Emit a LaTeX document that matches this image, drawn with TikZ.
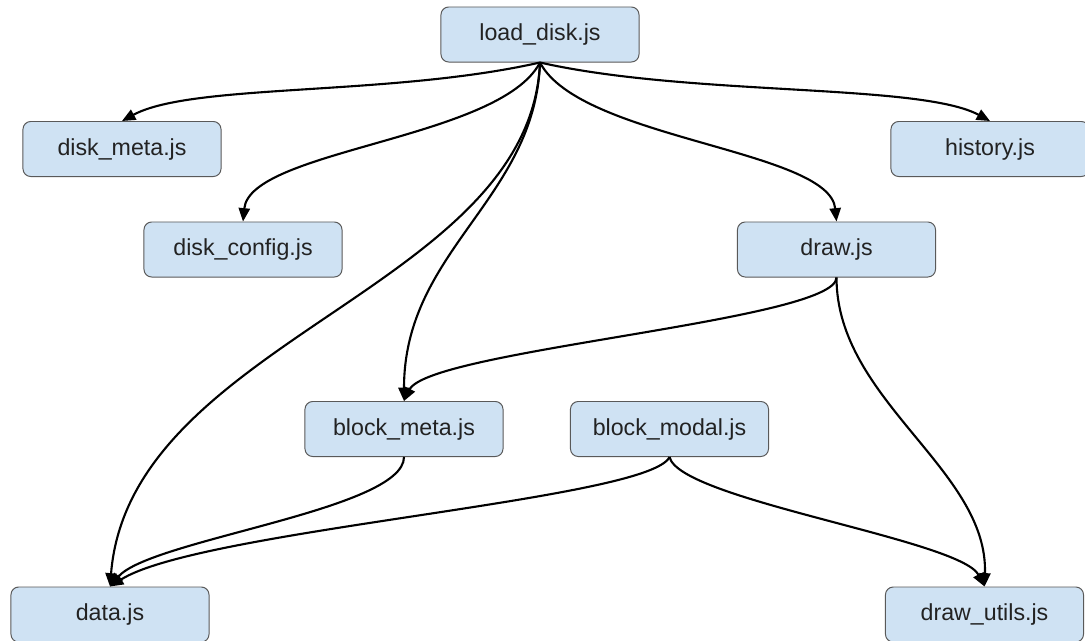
\documentclass[tikz,border=0pt]{standalone}
\usepackage{fontspec}
\setmainfont{Liberation Sans}
\usetikzlibrary{arrows.meta}

\definecolor{boxfill}{HTML}{CFE2F3}
\definecolor{boxline}{HTML}{595959}
\definecolor{textgray}{HTML}{222222}

\tikzset{
  jsfile/.style={draw=boxline, line width=0.7pt, fill=boxfill,
    rounded corners=5.5pt, minimum width=4.95cm, minimum height=1.375cm,
    inner sep=0pt, text=textgray, font=\fontsize{16.5}{20}\selectfont},
  uses/.style={line width=1.5pt, -{Triangle[length=9.5pt,width=8pt]}}
}

\begin{document}
\begin{tikzpicture}[x=0.025cm,y=-0.025cm]
  \useasboundingbox (0,0) rectangle (1085,640);
  % modules
  \node[jsfile] (load) at (540,34.5) {load\_disk.js};
  \node[jsfile] (diskmeta) at (122,149) {disk\_meta.js};
  \node[jsfile] (history) at (990,149) {history.js};
  \node[jsfile] (diskconfig) at (243,249.5) {disk\_config.js};
  \node[jsfile] (drawjs) at (836.5,249.5) {draw.js};
  \node[jsfile] (blockmeta) at (404,429) {block\_meta.js};
  \node[jsfile] (blockmodal) at (669.5,429) {block\_modal.js};
  \node[jsfile] (data) at (110,614.5) {data.js};
  \node[jsfile] (drawutils) at (984.5,614.5) {draw\_utils.js};
  % dependencies
  \draw[uses] (load.south) .. controls +(-150,34) and +(70,-38) .. (diskmeta.north);
  \draw[uses] (load.south) .. controls +(150,34) and +(-70,-38) .. (history.north);
  \draw[uses] (load.south) .. controls +(-40,77) and +(7,-72) .. (diskconfig.north);
  \draw[uses] (load.south) .. controls +(40,77) and +(-7,-72) .. (drawjs.north);
  \draw[uses] (load.south) .. controls +(-5,137) and +(0,-151) .. (blockmeta.north);
  \draw[uses] (load.south) .. controls +(-10,227) and +(20,-247) .. (data.north);
  \draw[uses] (drawjs.south) .. controls +(0,43) and +(25,-51) .. (blockmeta.north);
  \draw[uses] (drawjs.south) .. controls +(0,123) and +(4,-117) .. (drawutils.north);
  \draw[uses] (blockmeta.south) .. controls +(0,53) and +(40,-47) .. (data.north);
  \draw[uses] (blockmodal.south) .. controls +(-20,43) and +(90,-57) .. (data.north);
  \draw[uses] (blockmodal.south) .. controls +(10,43) and +(-24,-47) .. (drawutils.north);
\end{tikzpicture}
\end{document}
